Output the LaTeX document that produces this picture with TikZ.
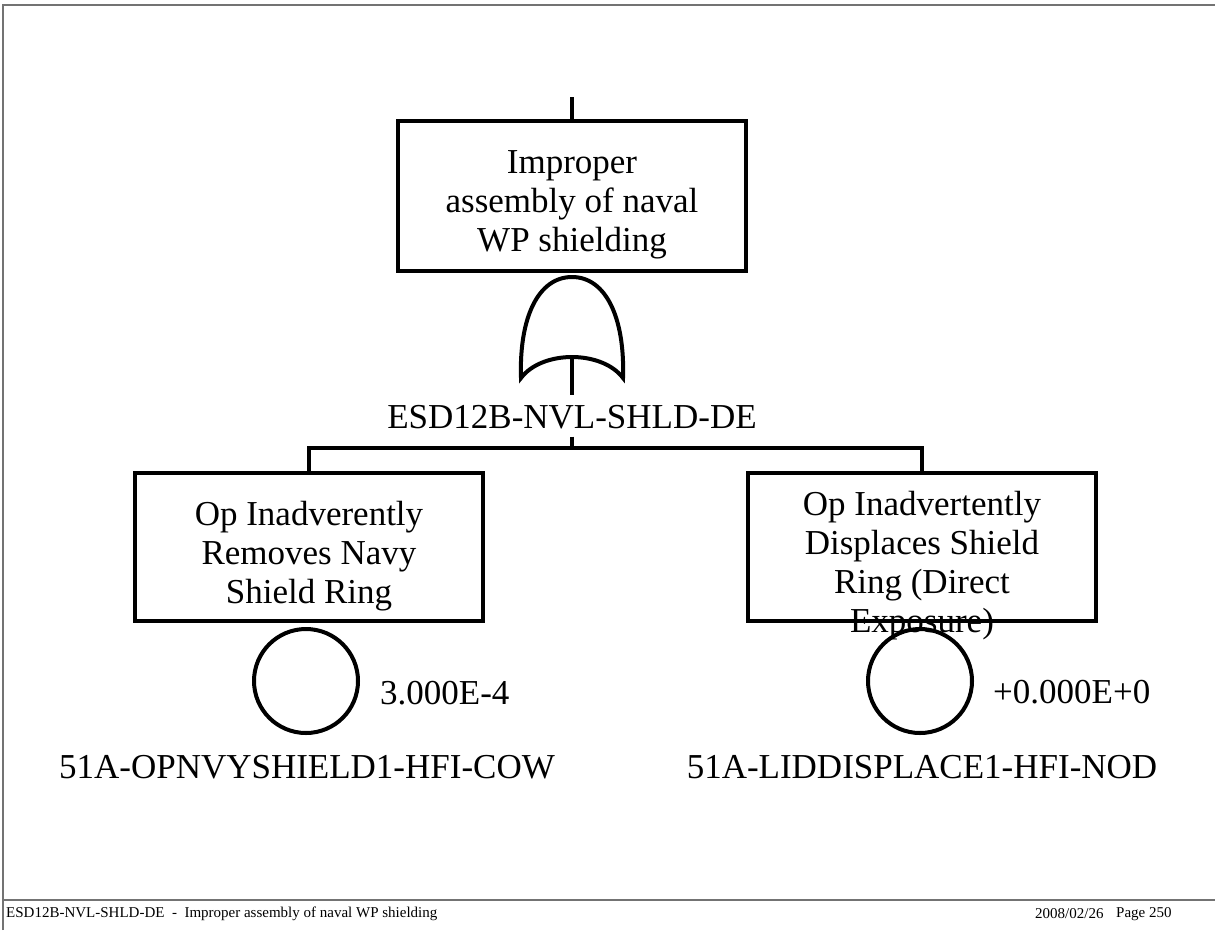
\documentclass[tikz,border=0pt]{standalone}
\usepackage{fontspec}
\setmainfont{Liberation Serif}
\usetikzlibrary{positioning, calc}

\begin{document}
\begin{tikzpicture}[x=1pt, y=-1pt,
    evbox/.style={draw, line width=4pt, minimum width=348pt, minimum height=148pt, inner sep=0pt},
    evtext/.style={align=center, inner sep=0pt, font=\fontsize{35}{39}\selectfont},
    basic/.style={draw, circle, line width=4pt, minimum size=104pt, inner sep=0pt},
    lab/.style={inner sep=0pt, font=\fontsize{35}{39}\selectfont},
    wire/.style={line width=4pt},
    frame/.style={draw=black!55, line width=2pt},
    foot/.style={anchor=west, inner sep=0pt, font=\fontsize{15}{15}\selectfont},
]
    \useasboundingbox (0,0) rectangle (1215,930);

    % page frame and footer
    \draw[frame] (3,930) -- (3,5) -- (1215,5);
    \draw[frame] (3,900) -- (1215,900);
    \node[foot] (foottitle) at (6,914) {ESD12B-NVL-SHLD-DE\ \ -\ \ Improper assembly of naval WP shielding};
    \node[foot] (footdate) at (1035,914) {2008/02/26};
    \node[foot] (footpage) at (1116,914) {Page 250};

    % top event
    \coordinate (topin) at (572,97);
    \node[evbox, minimum height=150pt] (top) at (572,196) {};
    \node[evtext] (toptext) at ($(top.center)+(0,9)$) {Improper\\assembly of naval\\WP shielding};
    \draw[wire] (topin) -- (top.north);

    % OR gate
    \coordinate (g1out) at (572,355);
    \draw[wire] (521,378) .. controls (519,318) and (538,277) .. (572,277)
        .. controls (606,277) and (625,318) .. (623,378)
        .. controls (602,350) and (542,350) .. (521,378) -- cycle;
    \node[lab, text height=33pt, text depth=8pt] (gatelab) at (572,416) {ESD12B-NVL-SHLD-DE};
    \draw[wire] (g1out) -- (gatelab.north);

    % inputs
    \coordinate (bus) at (572,448);
    \node[evbox] (ev1) at (309,547) {};
    \node[evtext] (ev1text) at ($(ev1.center)+(0,9)$) {Op Inadverently\\Removes Navy\\Shield Ring};
    \node[evbox] (ev2) at (922,547) {};
    \node[evtext] (ev2text) at ($(ev2.center)+(0,19)$) {Op Inadvertently\\Displaces Shield\\Ring (Direct\\Exposure)};
    \draw[wire] (gatelab.south) -- (bus);
    \draw[wire] (ev1.north) |- (bus) -| (ev2.north);

    % basic events
    \node[basic] (c1) at (306,681) {};
    \node[basic] (c2) at (920,681) {};
    \node[lab, anchor=west] (p1) at (380,693) {3.000E-4};
    \node[lab, anchor=west] (p2) at (993,692) {+0.000E+0};
    \node[lab] (n1) at (307,767) {51A-OPNVYSHIELD1-HFI-COW};
    \node[lab] (n2) at (922,767) {51A-LIDDISPLACE1-HFI-NOD};
\end{tikzpicture}
\end{document}
